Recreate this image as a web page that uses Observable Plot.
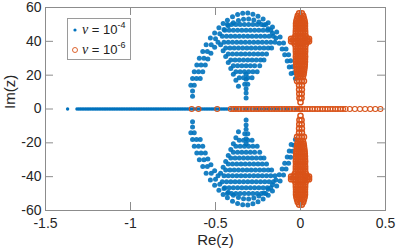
<!DOCTYPE html>
<html>
<head>
<meta charset="utf-8">
<script src="https://cdn.jsdelivr.net/npm/d3@7"></script>
<script src="https://cdn.jsdelivr.net/npm/@observablehq/plot@0.6"></script>
<style>
  html, body { margin: 0; padding: 0; background: #fff; }
  #wrap { position: relative; width: 397px; height: 252px; }
  #legend { position: absolute; left: 67px; top: 18px; width: 62px; height: 40px;
    border: 1px solid #9a9a9a; background: #fff; font-family: "Liberation Sans", Arial, sans-serif;
    font-size: 13px; color: #222; }
  .row { position: absolute; left: 0; height: 20px; width: 62px; }
  .row svg { position: absolute; left: 2px; top: 5px; }
  .row .t { position: absolute; left: 14px; top: 2px; white-space: nowrap; line-height: 16px; }
  .nu { font-family: "Liberation Serif", "DejaVu Serif", serif; font-style: italic; font-size: 14px; }
  sup { font-size: 9px; vertical-align: 6px; line-height: 0; }
</style>
</head>
<body>
<div id="wrap"></div>
<script>
const xTicks = [-1.5, -1, -0.5, 0, 0.5];
const yTicks = [-60, -40, -20, 0, 20, 40, 60];
const seriesNames = ["ν = 10^-4", "ν = 10^-6"];

// nu = 1e-4 : eigenvalues on the real axis (Im = 0)
const blueReal = [-1.37,
  -1.315,-1.305,-1.295,-1.285,-1.275,-1.265,-1.255,-1.245,-1.235,-1.225,-1.215,-1.205,-1.195,-1.185,-1.175,
  -1.165,-1.155,-1.145,-1.135,-1.125,-1.115,-1.105,-1.095,-1.085,-1.075,-1.065,-1.055,-1.045,-1.035,-1.025,
  -1.015,-1.005,-0.995,-0.985,-0.975,-0.965,-0.955,-0.945,-0.935,-0.925,-0.915,-0.905,-0.895,-0.885,-0.875,
  -0.865,-0.855,-0.845,-0.835,-0.825,-0.815,-0.805,-0.795,-0.785,-0.775,-0.765,-0.755,-0.745,-0.735,-0.725,
  -0.715,-0.705,-0.695,-0.685,-0.675,-0.665,-0.655,-0.645,-0.635,-0.625,-0.615,-0.605,-0.595,-0.585,-0.575,
  -0.565,-0.555,-0.545,-0.535,-0.525,-0.515,-0.505,-0.495,-0.485,-0.475,-0.465,-0.455,-0.445,-0.435,-0.425,
  -0.41,-0.39,-0.37,-0.35,-0.33,-0.31,-0.29,-0.27,-0.25,-0.23,-0.21,-0.19,-0.17,-0.15,-0.13,-0.11,-0.09,
  -0.07,-0.05,-0.03,-0.01];

// nu = 1e-4 : upper arch (outer band, inner legs, feet); lower half is its conjugate
const blueArch = [
  [-0.635,18],[-0.625,22],[-0.61,26],[-0.595,30],[-0.575,34],[-0.555,38],[-0.53,42],[-0.505,45],[-0.48,48],
  [-0.455,50.5],[-0.43,52.5],[-0.40,54.5],[-0.37,55.8],[-0.34,56.6],[-0.31,56.8],[-0.28,56],[-0.25,54.8],
  [-0.22,53.2],[-0.19,51],[-0.165,48.5],[-0.14,45.5],[-0.12,42.5],[-0.10,39],[-0.085,35.5],[-0.07,32],
  [-0.058,28.5],[-0.047,25],[-0.038,21.5],[-0.03,18],
  [-0.612,18],[-0.60,22],[-0.585,26],[-0.568,30],[-0.548,34],[-0.525,38],[-0.50,41.5],[-0.475,44.5],[-0.45,47],
  [-0.425,49.2],[-0.395,51],[-0.365,52.3],[-0.335,53],[-0.305,53.2],[-0.275,52.6],[-0.245,51.4],[-0.215,49.6],
  [-0.19,47.4],[-0.165,44.8],[-0.145,42],[-0.125,38.8],[-0.108,35.4],[-0.093,32],[-0.078,28.4],[-0.066,24.8],[-0.055,21],
  [-0.59,18],[-0.575,22],[-0.56,26],[-0.545,29.5],[-0.527,33],[-0.505,36.5],[-0.485,39.5],
  [-0.47,38],[-0.455,34.5],[-0.44,31],[-0.425,27.5],[-0.41,24],[-0.395,20.5],[-0.38,17],[-0.365,13.5],
  [-0.645,14],[-0.625,14],[-0.635,10.6],[-0.635,7.6],
  [-0.32,6.5],[-0.32,9.5],[-0.32,12],[-0.328,14.7],[-0.31,14.7],[-0.32,17.6],[-0.32,20.6]
];

// nu = 1e-4 : horizontal rows inside the arch [Im, Re values]
const blueRows = [
  [50, [-0.43,-0.405,-0.38,-0.355,-0.33,-0.305,-0.28,-0.255,-0.23,-0.205]],
  [46.5, [-0.445,-0.42,-0.395,-0.37,-0.345,-0.32,-0.295,-0.27,-0.245,-0.22,-0.195,-0.175]],
  [43, [-0.46,-0.435,-0.41,-0.385,-0.36,-0.335,-0.31,-0.285,-0.26,-0.235,-0.21,-0.185,-0.16]],
  [39.5, [-0.45,-0.425,-0.40,-0.375,-0.35,-0.325,-0.30,-0.275,-0.25,-0.225,-0.20,-0.175,-0.15]],
  [36, [-0.44,-0.415,-0.39,-0.365,-0.34,-0.315,-0.29,-0.265,-0.24,-0.215,-0.19,-0.17]],
  [32.5, [-0.425,-0.40,-0.375,-0.35,-0.325,-0.30,-0.275,-0.25,-0.225,-0.20]],
  [29, [-0.41,-0.385,-0.36,-0.335,-0.31,-0.285,-0.26,-0.235,-0.215]],
  [25.5, [-0.395,-0.37,-0.345,-0.32,-0.295,-0.27,-0.24]],
  [22, [-0.38,-0.355,-0.33,-0.305,-0.28,-0.255]],
  [18.5, [-0.36,-0.335,-0.31,-0.285]]
];

// nu = 1e-6 : real-axis eigenvalues
const orangeReal = [-0.64, -0.60, -0.49, -0.41,-0.395,-0.38,-0.365,-0.35,-0.335,-0.32,-0.305,-0.29,-0.275,
  -0.26,-0.245,-0.23,-0.215,-0.2,-0.185,-0.17,-0.155,-0.14,-0.125,-0.11,-0.095,-0.08,-0.065,-0.05,-0.035,
  -0.02,-0.005,0.0,0.01,0.025,0.04,0.055,0.07,0.085,0.1,0.115,0.13,0.145,0.16,0.175,0.19,0.205,0.22,0.235,
  0.25,0.265,0.29,0.32,0.35,0.38,0.41,0.44,0.47];

// nu = 1e-6 : column near Re = 0, rows [Im, Re values] (upper half; lower half is the conjugate)
const orangeRows = [
  [56.5, [-0.008, 0.008]],
  [55, [-0.016, 0, 0.016]],
  [53.5, [-0.02, -0.007, 0.007, 0.02]],
  [52, [-0.024, -0.012, 0, 0.012, 0.024]],
  [50.5, [-0.026, -0.013, 0, 0.013, 0.026]],
  [49, [-0.026, -0.013, 0, 0.013, 0.026]],
  [47.5, [-0.026, -0.013, 0, 0.013, 0.026]],
  [46, [-0.027, -0.014, 0, 0.014, 0.027]],
  [44.5, [-0.027, -0.014, 0, 0.014, 0.027]],
  [43, [-0.03, -0.015, 0, 0.015, 0.03]],
  [41.5, [-0.055, -0.042, -0.028, -0.014, 0, 0.014, 0.028, 0.04, 0.05]],
  [40, [-0.055, -0.042, -0.028, -0.014, 0, 0.014, 0.028, 0.04, 0.05]],
  [38.5, [-0.034, -0.017, 0, 0.017, 0.032]],
  [37, [-0.027, -0.014, 0, 0.014, 0.027]],
  [35.5, [-0.027, -0.014, 0, 0.014, 0.027]],
  [34, [-0.027, -0.014, 0, 0.014, 0.027]],
  [32.5, [-0.026, -0.013, 0, 0.013, 0.026]],
  [31, [-0.027, -0.014, 0, 0.014, 0.027]],
  [29.5, [-0.026, -0.013, 0, 0.013, 0.026]],
  [28, [-0.026, -0.013, 0, 0.013, 0.026]],
  [26.5, [-0.025, -0.012, 0, 0.012, 0.025]],
  [25, [-0.024, -0.012, 0, 0.012, 0.024]],
  [23.5, [-0.022, -0.011, 0, 0.011, 0.022]],
  [22, [-0.02, -0.007, 0.007, 0.02]],
  [20.5, [-0.018, -0.006, 0.006, 0.018]],
  [19, [-0.014, 0, 0.014]],
  [16.5, [-0.02, -0.007, 0.007, 0.02]],
  [14, [-0.008, 0.008]],
  [11.5, [-0.008, 0.008]],
  [9, [-0.007, 0.007]],
  [6.5, [-0.006, 0.006]],
  [4, [0]]
];

// ---- build point tables from the arrays above ----
const blueAxisPts = blueReal.map(r => ({re: r, im: 0}));
const blueUpper = blueArch.map(([re, im]) => ({re, im}));
blueRows.forEach(([im, res]) => res.forEach(re => blueUpper.push({re, im})));
const blueArchPts = [];
blueUpper.forEach(p => { blueArchPts.push(p); blueArchPts.push({re: p.re, im: -p.im}); });

const orangePts = [];
orangeRows.forEach(([im, res]) => res.forEach(re => { orangePts.push({re, im}); orangePts.push({re, im: -im}); }));
const orangeAxisPts = orangeReal.map(r => ({re: r, im: 0}));

const BLUE = "#0072BD", ORANGE = "#D95319", AXIS = "#8c8c8c", TXT = "#262626";
const W = 397, H = 252, mL = 45, mR = 12, mT = 7, mB = 42;
const pw = W - mL - mR, ph = H - mT - mB, tl = 8;

const chart = Plot.plot({
  width: W, height: H,
  marginLeft: mL, marginRight: mR, marginTop: mT, marginBottom: mB,
  x: {domain: [-1.5, 0.5], label: null},
  y: {domain: [-60, 60], label: null},
  style: {fontFamily: "'Liberation Sans', Arial, sans-serif", fontSize: "14px", color: TXT, background: "#fff"},
  marks: [
    Plot.dot(blueAxisPts, {x: "re", y: "im", r: 1.7, fill: BLUE, stroke: "none"}),
    Plot.dot(blueArchPts, {x: "re", y: "im", r: 2.5, fill: BLUE, stroke: "none", fillOpacity: 0.9}),
    Plot.dot(orangePts, {x: "re", y: "im", r: 2.6, fill: "none", stroke: ORANGE, strokeWidth: 1.5}),
    Plot.dot(orangeAxisPts, {x: "re", y: "im", r: 2.5, fill: "none", stroke: ORANGE, strokeWidth: 1.1}),
    Plot.frame({stroke: AXIS, strokeWidth: 1}),
    Plot.tickX(xTicks, {x: d => d, insetTop: ph - tl, stroke: AXIS}),
    Plot.tickX(xTicks, {x: d => d, insetBottom: ph - tl, stroke: AXIS}),
    Plot.tickY(yTicks, {y: d => d, insetRight: pw - tl, stroke: AXIS}),
    Plot.tickY(yTicks, {y: d => d, insetLeft: pw - tl, stroke: AXIS}),
    Plot.axisX(xTicks, {tickSize: 0, tickPadding: 8, tickFormat: d => String(d), fontSize: 14, fill: TXT, label: null}),
    Plot.axisY(yTicks, {tickSize: 0, tickPadding: 4, tickFormat: d => String(d), fontSize: 14, fill: TXT, label: null}),
    Plot.text(["Re(z)"], {frameAnchor: "bottom", dy: 34.5, text: d => d, fontSize: 15, fill: TXT}),
    Plot.text(["Im(z)"], {frameAnchor: "left", dx: -35, rotate: -90, text: d => d, fontSize: 15, fill: TXT})
  ]
});

const wrap = document.getElementById("wrap");
wrap.appendChild(chart);

const legend = document.createElement("div");
legend.id = "legend";
const fmt = s => {
  const [a, e] = s.split("^");
  return `<span class="nu">ν</span>${a.slice(1)}<sup>${e}</sup>`;
};
legend.innerHTML = `
  <div class="row" style="top:1px">
    <svg width="10" height="10"><circle cx="5" cy="5" r="1.6" fill="${BLUE}"/></svg>
    <span class="t">${fmt(seriesNames[0])}</span>
  </div>
  <div class="row" style="top:21px">
    <svg width="10" height="10"><circle cx="5" cy="5" r="2.5" fill="none" stroke="${ORANGE}" stroke-width="0.9"/></svg>
    <span class="t">${fmt(seriesNames[1])}</span>
  </div>`;
wrap.appendChild(legend);
</script>
</body>
</html>
